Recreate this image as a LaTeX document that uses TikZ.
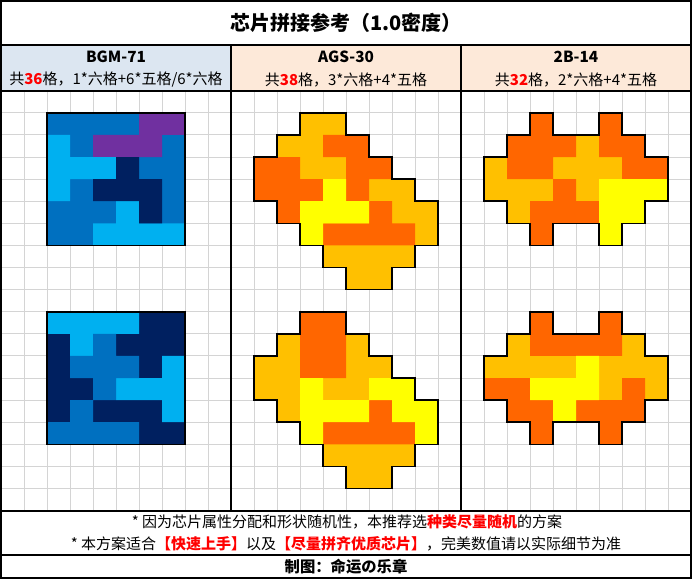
\documentclass[tikz,border=0pt]{standalone}
\usepackage{fontspec}
\setmainfont{Noto Sans CJK SC}
\definecolor{midblue}{HTML}{0070C0}
\definecolor{ltblue}{HTML}{00B0F0}
\definecolor{navy}{HTML}{002060}
\definecolor{purp}{HTML}{7030A0}
\definecolor{gold}{HTML}{FFC000}
\definecolor{orng}{HTML}{FF6600}
\definecolor{yel}{HTML}{FFFF00}
\definecolor{gridgray}{HTML}{D4D4D4}
\definecolor{hdrblue}{HTML}{DCE6F1}
\definecolor{hdrpeach}{HTML}{FDE9D9}
\definecolor{redtxt}{HTML}{FF0000}
\newcommand\rd[1]{\textcolor{redtxt}{\bfseries #1}}
\newcommand\agsoutline[1]{\path[#1] (3,0) -- (5,0) -- (5,1) -- (6,1) -- (6,2) -- (7,2) -- (7,3) -- (8,3) -- (8,4) -- (9,4) -- (9,6) -- (8,6) -- (8,7) -- (7,7) -- (7,8) -- (5,8) -- (5,7) -- (4,7) -- (4,6) -- (3,6) -- (3,5) -- (2,5) -- (2,4) -- (1,4) -- (1,2) -- (2,2) -- (2,1) -- (3,1) -- cycle;}
\newcommand\twobpath[1]{\path[#1] (3,0) -- (4,0) -- (4,1) -- (6,1) -- (6,0) -- (7,0) -- (7,1) -- (8,1) -- (8,2) -- (9,2) -- (9,4) -- (8,4) -- (8,5) -- (7,5) -- (7,6) -- (6,6) -- (6,5) -- (4,5) -- (4,6) -- (3,6) -- (3,5) -- (2,5) -- (2,4) -- (1,4) -- (1,2) -- (2,2) -- (2,1) -- (3,1) -- cycle;}
\begin{document}
\begin{tikzpicture}[x=0.75pt,y=-0.75pt,
  frameline/.style={line width=1.5pt, black},
  gridline/.style={gridgray, line width=0.75pt},
  shapeline/.style={draw=black, line width=1.2pt, line join=miter},
  basetext/.style={inner sep=0pt, font=\fontsize{11.25}{13.5}\selectfont},
  boldtext/.style={inner sep=0pt, font=\fontsize{11.5}{13.5}\selectfont\bfseries},
  titletext/.style={inner sep=0pt, font=\fontsize{15}{18}\selectfont\bfseries},
  cellsec/.style={x=17.25pt, y=-16.575pt}]
\useasboundingbox (0,0) rectangle (692,579);
\fill[white] (0,0) rectangle (692,579);
\fill[hdrblue] (1,45) rectangle (231,90.7);
\fill[hdrpeach] (231,45) rectangle (691,90.7);

% ---------- section 1: BGM-71 ----------
\begin{scope}[shift={(1,90.7)}, cellsec]
  \foreach \i in {1,...,9} \draw[gridline] (\i,0) -- (\i,19);
  \foreach \j in {1,...,18} \draw[gridline] (0,\j) -- (10,\j);
  % top block
  \fill[midblue] (2,1) rectangle (8,7);
  \fill[purp] (6,1) rectangle (8,2) (4,2) rectangle (7,3);
  \fill[ltblue] (2,2) rectangle (3,3) (2,3) rectangle (5,4) (2,4) rectangle (3,5) (5,5) rectangle (6,6) (4,6) rectangle (8,7);
  \fill[navy] (5,3) rectangle (6,4) (4,4) rectangle (7,5) (6,5) rectangle (7,6);
  \draw[shapeline] (2,1) rectangle (8,7);
  % bottom block
  \fill[navy] (2,10) rectangle (8,16);
  \fill[ltblue] (2,10) rectangle (6,11) (3,11) rectangle (4,12) (7,12) rectangle (8,13) (5,13) rectangle (8,14) (7,14) rectangle (8,15);
  \fill[midblue] (4,11) rectangle (5,12) (3,12) rectangle (6,13) (4,13) rectangle (5,14) (3,14) rectangle (4,15) (2,15) rectangle (6,16);
  \draw[shapeline] (2,10) rectangle (8,16);
\end{scope}

% ---------- section 2: AGS-30 ----------
\begin{scope}[shift={(231,90.7)}, cellsec]
  \foreach \i in {1,...,9} \draw[gridline] (\i,0) -- (\i,19);
  \foreach \j in {1,...,18} \draw[gridline] (0,\j) -- (10,\j);
  % top shape
  \agsoutline{fill=gold, shift={(0,1)}}
  \fill[orng] (4,2) rectangle (6,3) (1,3) rectangle (3,4) (5,3) rectangle (7,4) (1,4) rectangle (4,5) (5,4) rectangle (6,5) (2,5) rectangle (3,6) (6,5) rectangle (7,6) (4,6) rectangle (8,7);
  \fill[yel] (4,4) rectangle (5,5) (3,5) rectangle (6,6) (3,6) rectangle (4,7);
  \agsoutline{shapeline, shift={(0,1)}}
  % bottom shape
  \agsoutline{fill=gold, shift={(0,10)}}
  \fill[orng] (3,10) rectangle (5,13) (6,14) rectangle (7,15) (4,15) rectangle (8,16);
  \fill[yel] (3,13) rectangle (4,14) (6,13) rectangle (8,14) (3,14) rectangle (6,15) (7,14) rectangle (9,15) (3,15) rectangle (4,16) (8,15) rectangle (9,16);
  \agsoutline{shapeline, shift={(0,10)}}
\end{scope}

% ---------- section 3: 2B-14 ----------
\begin{scope}[shift={(461,90.7)}, cellsec]
  \foreach \i in {1,...,9} \draw[gridline] (\i,0) -- (\i,19);
  \foreach \j in {1,...,18} \draw[gridline] (0,\j) -- (10,\j);
  % top shape
  \twobpath{fill=gold, shift={(0,1)}}
  \fill[orng] (3,1) rectangle (4,2) (6,1) rectangle (7,2) (2,2) rectangle (5,3) (6,2) rectangle (8,3) (2,3) rectangle (4,4) (7,3) rectangle (9,4) (4,4) rectangle (5,5) (3,5) rectangle (6,6) (3,6) rectangle (4,7);
  \fill[yel] (6,4) rectangle (9,5) (6,5) rectangle (8,6) (6,6) rectangle (7,7);
  \twobpath{shapeline, shift={(0,1)}}
  % bottom shape
  \twobpath{fill=gold, shift={(0,10)}}
  \fill[orng] (3,10) rectangle (4,11) (6,10) rectangle (7,11) (3,11) rectangle (7,12) (1,13) rectangle (3,14) (7,13) rectangle (8,14) (2,14) rectangle (4,15) (5,14) rectangle (8,15) (3,15) rectangle (4,16) (6,15) rectangle (7,16);
  \fill[yel] (5,12) rectangle (6,13) (3,13) rectangle (6,14) (4,14) rectangle (5,15);
  \twobpath{shapeline, shift={(0,10)}}
\end{scope}

% ---------- table frame ----------
\draw[frameline] (1,1) rectangle (691,578);
\draw[frameline] (1,45) -- (691,45);
\draw[frameline] (1,90.7) -- (691,90.7);
\draw[frameline] (1,510.6) -- (691,510.6);
\draw[frameline] (1,554.5) -- (691,554.5);
\draw[frameline] (231,45) -- (231,510.6);
\draw[frameline] (461,45) -- (461,510.6);

% ---------- texts ----------
\node[titletext] (title) at (346,23.3) {芯片拼接参考（1.0密度）};
\node[boldtext] (h1) at (116,57) {BGM-71};
\node[boldtext] (h2) at (346,57) {AGS-30};
\node[boldtext] (h3) at (576,57) {2B-14};
\node[basetext] (s1) at (116,79.5) {共\rd{36}格，1*六格+6*五格/6*六格};
\node[basetext] (s2) at (346,79.5) {共\rd{38}格，3*六格+4*五格};
\node[basetext] (s3) at (576,79.5) {共\rd{32}格，2*六格+4*五格};
\node[basetext] (f1) at (347,521.7) {* 因为芯片属性分配和形状随机性，本推荐选\rd{种类尽量随机}的方案};
\node[basetext] (f2) at (346,544) {* 本方案适合\rd{【快速上手】}以及\rd{【尽量拼齐优质芯片】}，完美数值请以实际细节为准};
\node[boldtext] (f3) at (346,567) {制图：命运の乐章};
\end{tikzpicture}
\end{document}
